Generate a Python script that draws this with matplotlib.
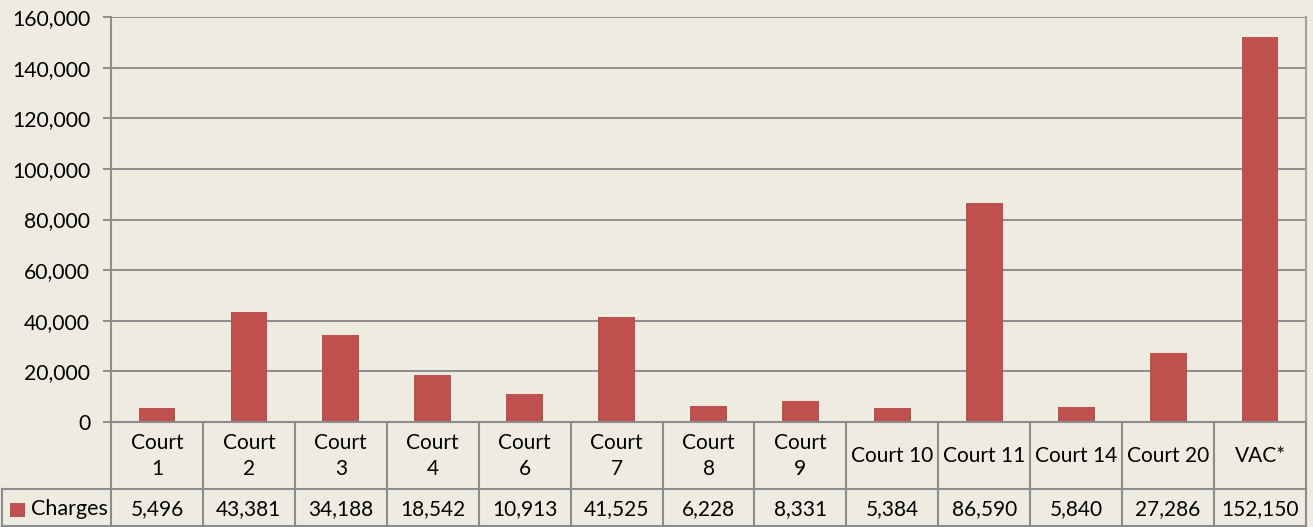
import matplotlib.pyplot as plt
import numpy as np

courts = ['Court\n1', 'Court\n2', 'Court\n3', 'Court\n4', 'Court\n6', 'Court\n7',
          'Court\n8', 'Court\n9', 'Court 10', 'Court 11', 'Court 14', 'Court 20', 'VAC*']
charges = [5496, 43381, 34188, 18542, 10913, 41525, 6228, 8331, 5384, 86590, 5840, 27286, 152150]
series_name = 'Charges'
y_ticks = [0, 20000, 40000, 60000, 80000, 100000, 120000, 140000, 160000]

BG = '#EEECE1'
BAR = '#C0504D'
GRID = '#8C8C8C'
FONT = 'Lato'
TXT = '#000000'

W, H = 1313, 527
fig = plt.figure(figsize=(W / 100, H / 100), dpi=100, facecolor=BG)

# plot area in pixels
left, right, top, zero = 111, 1306, 17, 422
ax = fig.add_axes([left / W, (H - zero) / H, (right - left) / W, (zero - top) / H])
ax.set_facecolor(BG)

n = len(charges)
x = np.arange(n)
ax.bar(x, charges, width=0.4, color=BAR, zorder=3)

ax.set_xlim(-0.5, n - 0.5)
ax.set_ylim(0, 160000)
ax.set_yticks(y_ticks)
ax.set_yticklabels([f'{v:,}' for v in y_ticks], fontsize=15.2, family=FONT, color=TXT)
ax.tick_params(axis='y', length=6, width=1.4, color=GRID, pad=9)
ax.tick_params(axis='x', bottom=False, labelbottom=False)
ax.yaxis.grid(True, color=GRID, linewidth=1.4, zorder=0)

for s in ['top', 'bottom']:
    ax.spines[s].set_visible(False)
ax.spines['left'].set_color(GRID)
ax.spines['left'].set_linewidth(1.5)
ax.spines['right'].set_color('#A0A0A0')
ax.spines['right'].set_linewidth(1.5)

# data table under the chart
colw = (right - left) / n
trans = ax.get_xaxis_transform()


def ya(px):
    return (zero - px) / (zero - top)


def xd(px):
    return -0.5 + (px - left) / colw


row1_bot, row2_bot = 489, 526
line_kw = dict(color=GRID, linewidth=1.5, transform=trans, clip_on=False, zorder=5)

ax.plot([xd(left), n - 0.5], [ya(zero), ya(zero)], **line_kw)
ax.plot([xd(2), n - 0.5], [ya(row1_bot), ya(row1_bot)], **line_kw)
ax.plot([xd(2), n - 0.5], [ya(row2_bot), ya(row2_bot)], **line_kw)
ax.plot([xd(2), xd(2)], [ya(row1_bot), ya(row2_bot)], **line_kw)
for k in range(n + 1):
    ax.plot([k - 0.5, k - 0.5], [ya(zero), ya(row2_bot)], **line_kw)

txt_kw = dict(transform=trans, ha='center', va='center', fontsize=15, family=FONT,
              color=TXT, clip_on=False, linespacing=1.4)
for i, (lab, val) in enumerate(zip(courts, charges)):
    ax.text(i, ya(456), lab, **txt_kw)
    ax.text(i, ya(509), f'{val:,}', **txt_kw)

# legend key in table
ax.add_patch(plt.Rectangle((xd(10), ya(517)), 15 / colw, ya(503) - ya(517),
                           facecolor=BAR, edgecolor='none', transform=trans, clip_on=False))
ax.text(xd(31), ya(509), series_name, transform=trans, ha='left', va='center',
        fontsize=15.5, family=FONT, color=TXT, clip_on=False)

fig.savefig('out.png', dpi=100, facecolor=BG)
